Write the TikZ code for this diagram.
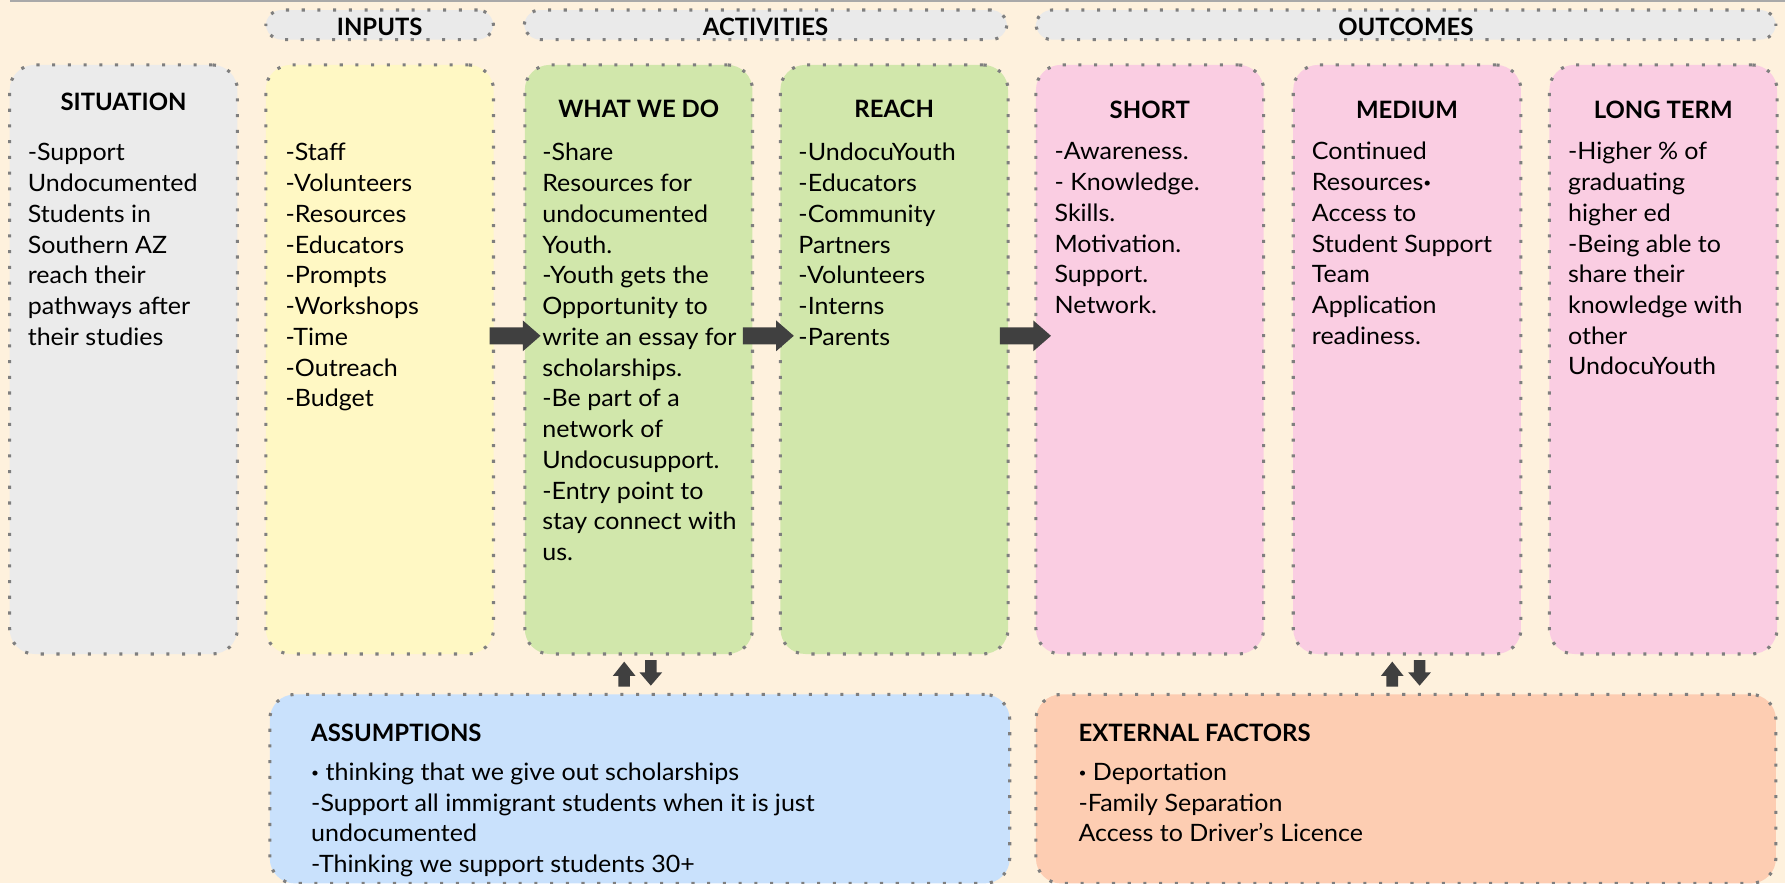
\documentclass[tikz,border=0pt]{standalone}
\usepackage{fontspec}
\usepackage{graphicx}
\setmainfont{Lato}
\newfontfamily\bodyfont{Lato}[FakeStretch=1.047]
\definecolor{bgc}{HTML}{FEF1DD}
\definecolor{topc}{HTML}{A9A9A9}
\definecolor{dotc}{HTML}{7F7F7F}
\definecolor{hdrc}{HTML}{EAEAEA}
\definecolor{sitc}{HTML}{EBEBEB}
\definecolor{inpc}{HTML}{FFF8C4}
\definecolor{grnc}{HTML}{D1E7AB}
\definecolor{pnkc}{HTML}{FACDE2}
\definecolor{bluc}{HTML}{C9E1FC}
\definecolor{pchc}{HTML}{FDCDB2}
\definecolor{arrc}{HTML}{404040}
\newcommand{\firstline}{\rule{0pt}{10pt}}
\newcommand{\smallbul}{\raisebox{0.25ex}{\scalebox{0.55}{•}}}
\tikzset{
  dotborder/.style={draw=dotc, line width=1.35pt, dash pattern=on 1.35pt off 5.55pt},
  hdrbox/.style={dotborder, fill=hdrc, rounded corners=7pt, anchor=north west, inner sep=0pt, outer sep=0pt, minimum height=13pt},
  mainbox/.style={dotborder, rounded corners=11pt, anchor=north west, inner sep=0pt, outer sep=0pt, minimum width=100pt, minimum height=258.75pt},
  lowbox/.style={dotborder, rounded corners=11pt, anchor=north west, inner sep=0pt, outer sep=0pt, minimum width=325pt, minimum height=83pt},
  hdrtxt/.style={anchor=base, inner sep=0pt, font=\fontsize{10.5pt}{13pt}\selectfont\bfseries},
  ttl/.style={anchor=base, inner sep=0pt, font=\fontsize{10.5pt}{13pt}\selectfont\bfseries},
  lowttl/.style={anchor=base west, inner sep=0pt, font=\fontsize{10.5pt}{13pt}\selectfont\bfseries},
  body/.style={anchor=north west, inner sep=0pt, align=left, font=\bodyfont\fontsize{10.5pt}{13.5pt}\selectfont},
  rarrow/.pic={\fill[arrc] (0,-7.5) -- (29.3,-7.5) -- (29.3,-13.5) -- (44.8,0) -- (29.3,13.5) -- (29.3,7.5) -- (0,7.5) -- cycle;},
  uarrow/.pic={\fill[arrc] (-5.1,0) -- (-5.1,-9.4) -- (-10,-9.4) -- (0,-22) -- (10,-9.4) -- (5.1,-9.4) -- (5.1,0) -- cycle;},
  darrow/.pic={\fill[arrc] (-5.1,0) -- (-5.1,10.8) -- (-10,10.8) -- (0,22.5) -- (10,10.8) -- (5.1,10.8) -- (5.1,0) -- cycle;},
}
\begin{document}
\begin{tikzpicture}[x=0.5pt,y=-0.5pt]
\fill[bgc] (0,0) rectangle (1568,775.7);
\useasboundingbox (0,0) rectangle (1568,775.7);
\draw[topc, line width=0.8pt] (9,0.7) -- (1568,0.7);

% header bars
\node[hdrbox, minimum width=100pt] (hin) at (233.5,8.8) {};
\node[hdrbox, minimum width=212pt] (hact) at (460.5,8.8) {};
\node[hdrbox, minimum width=325pt] (hout) at (910,8.8) {};
\node[hdrtxt] (tin) at (333.5,31) {INPUTS};
\node[hdrtxt] (tact) at (672.5,31) {ACTIVITIES};
\node[hdrtxt] (tout) at (1235,31) {OUTCOMES};

% main columns
\node[mainbox, fill=sitc] (sit) at (8.5,57) {};
\node[mainbox, fill=inpc] (inp) at (233.5,57) {};
\node[mainbox, fill=grnc] (wwd) at (461,57) {};
\node[mainbox, fill=grnc] (rch) at (685.5,57) {};
\node[mainbox, fill=pnkc] (sht) at (910,57) {};
\node[mainbox, fill=pnkc] (med) at (1136,57) {};
\node[mainbox, fill=pnkc] (lng) at (1361,57) {};

% lower boxes
\node[lowbox, fill=bluc] (asm) at (237,610) {};
\node[lowbox, fill=pchc] (ext) at (910,610) {};

% titles
\node[ttl] (tsit) at (108.5,96.7) {SITUATION};
\node[ttl] (twwd) at (561,103) {WHAT WE DO};
\node[ttl] (trch) at (785.5,103) {REACH};
\node[ttl] (tsht) at (1010,104) {SHORT};
\node[ttl] (tmed) at (1236,104) {MEDIUM};
\node[ttl] (tlng) at (1461,104) {LONG TERM};

% bodies (first baseline = y + 20)
\node[body] (bsit) at (24,121) {\firstline-Support\\Undocumented\\Students in\\Southern AZ\\reach their\\pathways after\\their studies};
\node[body] (binp) at (250.5,121) {\firstline-Staff\\-Volunteers\\-Resources\\-Educators\\-Prompts\\-Workshops\\-Time\\-Outreach\\-Budget};
\node[body] (bwwd) at (476,121) {\firstline-Share\\Resources for\\undocumented\\Youth.\\-Youth gets the\\Opportunity to\\write an essay for\\scholarships.\\-Be part of a\\network of\\Undocusupport.\\-Entry point to\\stay connect with\\us.};
\node[body] (brch) at (701,121) {\firstline-UndocuYouth\\-Educators\\-Community\\Partners\\-Volunteers\\-Interns\\-Parents};
\node[body] (bsht) at (926,120) {\firstline-Awareness.\\- Knowledge.\\Skills.\\Motivation.\\Support.\\Network.};
\node[body] (bmed) at (1152,120) {\firstline Continued\\Resources\smallbul\\Access to\\Student Support\\Team\\Application\\readiness.};
\node[body] (blng) at (1377,120) {\firstline-Higher \% of\\graduating\\higher ed\\-Being able to\\share their\\knowledge with\\other\\UndocuYouth};

\node[lowttl] (tasm) at (273,651) {ASSUMPTIONS};
\node[body] (basm) at (273,665) {\firstline\smallbul{} thinking that we give out scholarships\\-Support all immigrant students when it is just\\undocumented\\-Thinking we support students 30+};
\node[lowttl] (text) at (947,651) {EXTERNAL FACTORS};
\node[body] (bext) at (947,665) {\firstline\smallbul{} Deportation\\-Family Separation\\Access to Driver’s Licence};

% arrows
\pic at (430,295) {rarrow};
\pic at (652.5,295) {rarrow};
\pic at (878.4,295) {rarrow};
\pic at (548.3,603.2) {uarrow};
\pic at (571.7,579.8) {darrow};
\pic at (1223,603.2) {uarrow};
\pic at (1247,579.8) {darrow};
\end{tikzpicture}
\end{document}
